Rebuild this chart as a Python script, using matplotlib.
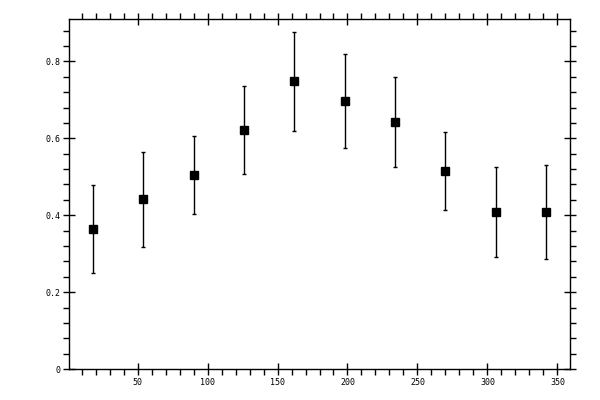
import matplotlib
matplotlib.use("Agg")
import matplotlib.pyplot as plt
from matplotlib.ticker import MultipleLocator, FuncFormatter

# angle (deg) vs value, with asymmetric error bars
angle = [18, 54, 90, 126, 162, 198, 234, 270, 306, 342]
value = [0.364, 0.442, 0.504, 0.621, 0.748, 0.696, 0.642, 0.514, 0.408, 0.408]
err_low = [0.115, 0.125, 0.101, 0.115, 0.130, 0.122, 0.117, 0.101, 0.117, 0.122]
err_high = [0.114, 0.122, 0.101, 0.114, 0.127, 0.122, 0.116, 0.102, 0.117, 0.122]

fig = plt.figure(figsize=(6, 4), dpi=100)
ax = fig.add_axes([0.115, 0.077, 0.835, 0.8755])

ax.errorbar(angle, value, yerr=[err_low, err_high], fmt="s", color="black",
            ms=5.8, elinewidth=1, capsize=1.6, capthick=1)

ax.set_xlim(1, 359)
ax.set_ylim(0, 0.91)

ax.xaxis.set_major_locator(MultipleLocator(50))
ax.xaxis.set_minor_locator(MultipleLocator(10))
ax.yaxis.set_major_locator(MultipleLocator(0.2))
ax.yaxis.set_minor_locator(MultipleLocator(0.04))
ax.yaxis.set_major_formatter(FuncFormatter(lambda v, p: "%g" % round(v, 2)))
ax.xaxis.set_major_formatter(FuncFormatter(lambda v, p: "" if v <= 0 else "%g" % v))

ax.tick_params(which="major", direction="inout", length=8, width=1,
               top=True, right=True, labelsize=6, pad=2)
ax.tick_params(which="minor", direction="out", length=4, width=1,
               top=True, right=True)
for lab in ax.get_xticklabels() + ax.get_yticklabels():
    lab.set_family("DejaVu Sans Mono")
for s in ax.spines.values():
    s.set_linewidth(1)

fig.savefig("out.png", dpi=100)
